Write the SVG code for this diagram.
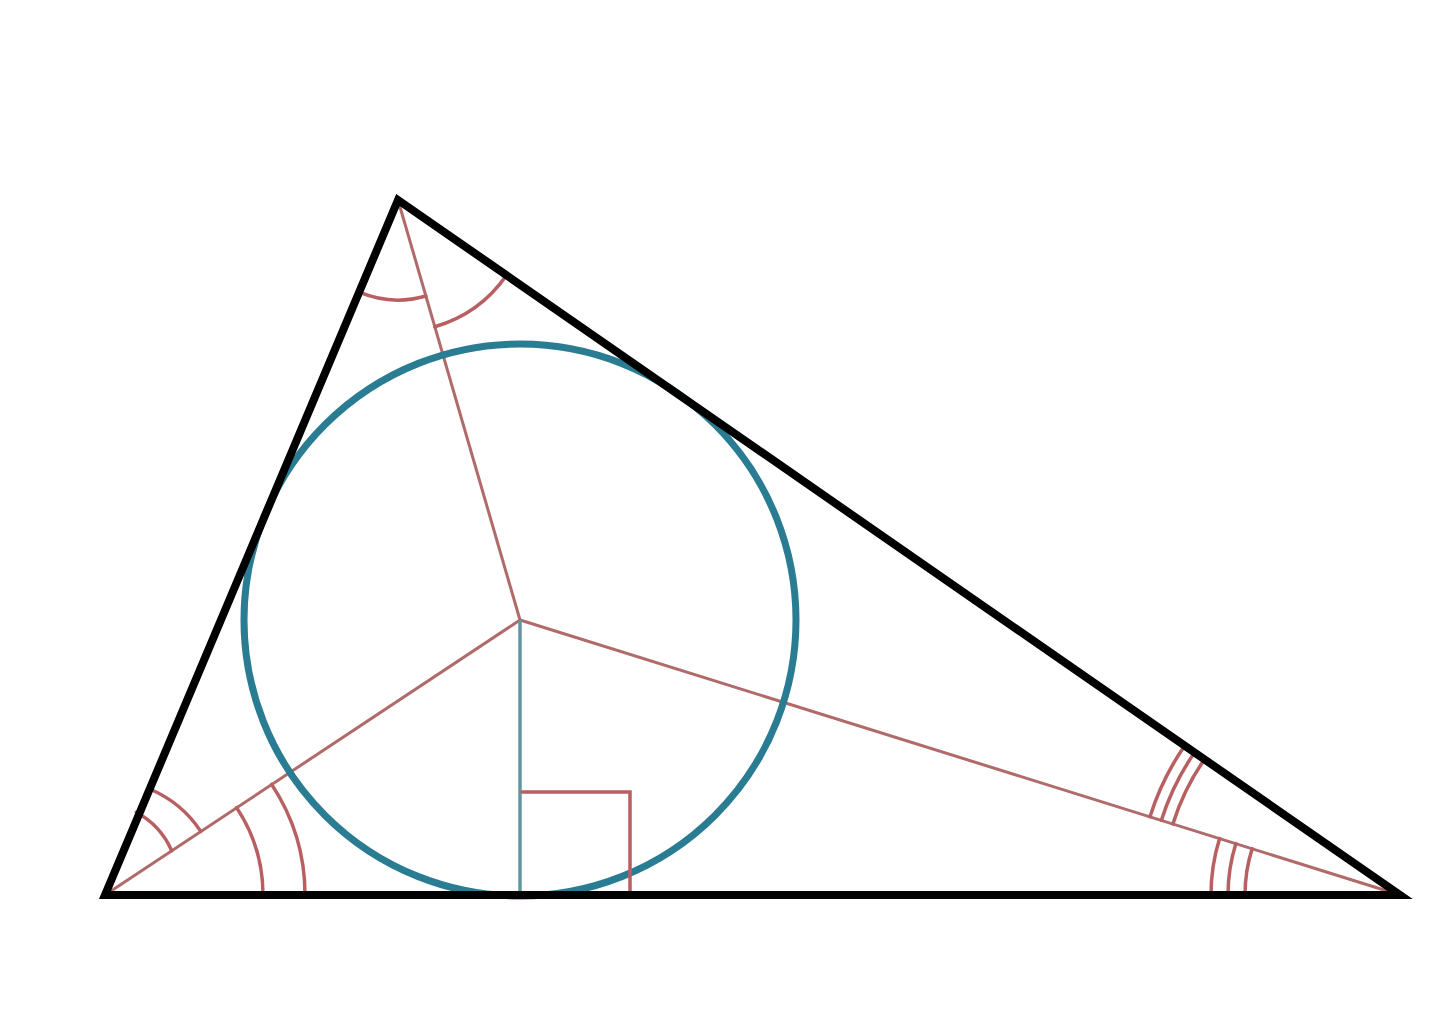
<svg xmlns="http://www.w3.org/2000/svg" width="1440" height="1028" viewBox="0 0 1440 1028">
<style>
.mark{fill:none;stroke:#b85f62;stroke-width:3.5;stroke-linecap:round}
.bis{fill:none;stroke:#b06a6a;stroke-width:3}
.tri{fill:none;stroke:#000;stroke-width:8;stroke-linejoin:miter}
.circ{fill:none;stroke:#2a7c92;stroke-width:7}
.rad{stroke:#5f979e;stroke-width:3.5}
</style>
<rect width="1440" height="1028" fill="#ffffff"/>
<g id="bisectors">
<line class="bis" x1="398" y1="200" x2="520" y2="620"/>
<line class="bis" x1="105" y1="895" x2="520" y2="620"/>
<line class="bis" x1="1400" y1="895" x2="520" y2="620"/>
</g>
<g id="circle">
<circle class="circ" cx="520" cy="620" r="276"/>
<line class="rad" x1="520" y1="620" x2="520" y2="895"/>
</g>
<g id="right-angle">
<polyline class="mark" points="522,792 630,792 630,893"/>
</g>
<g id="marks-A">
<path class="mark" d="M425.9,296 A100,100 0 0 1 359.2,292.2"/>
<path class="mark" d="M506.5,275.2 A132,132 0 0 1 434.8,326.7"/>
</g>
<g id="marks-B">
<path class="mark" d="M136.2,812.3 A80,80 0 0 1 171.7,850.8"/>
<path class="mark" d="M149.7,789 A115,115 0 0 1 200.8,831.4"/>
<path class="mark" d="M236.6,807.6 A158,158 0 0 1 263,895"/>
<path class="mark" d="M271.6,784.4 A200,200 0 0 1 305,895"/>
</g>
<g id="marks-C">
<path class="mark" d="M1245,895 A155,155 0 0 1 1252.1,848.7"/>
<path class="mark" d="M1228,895 A172,172 0 0 1 1235.9,843.6"/>
<path class="mark" d="M1211,895 A189,189 0 0 1 1219.6,838.5"/>
<path class="mark" d="M1172.9,823.9 A238,238 0 0 1 1204.4,759.4"/>
<path class="mark" d="M1161.4,820.3 A250,250 0 0 1 1194.6,752.5"/>
<path class="mark" d="M1150,816.7 A262,262 0 0 1 1184.7,745.7"/>
</g>
<g id="triangle">
<polygon class="tri" points="398,200 105,895 1400,895"/>
</g>
</svg>
